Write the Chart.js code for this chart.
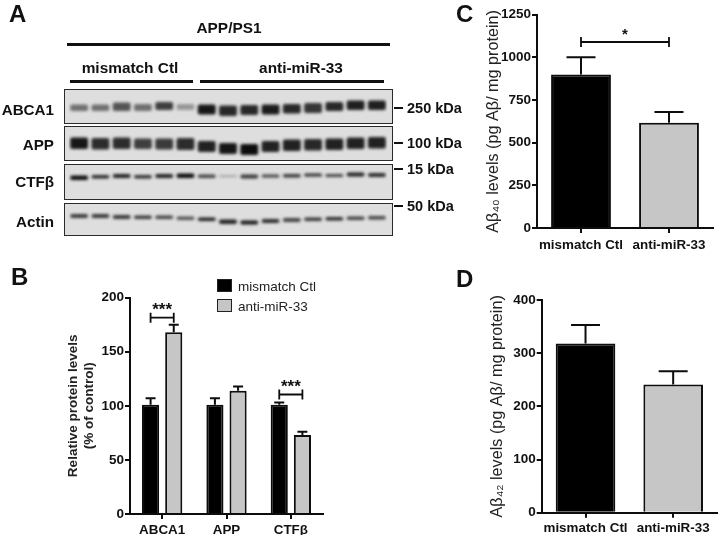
<!DOCTYPE html>
<html>
<head>
<meta charset="utf-8">
<script src="https://cdn.jsdelivr.net/npm/chart.js@4/dist/chart.umd.min.js"></script>
<style>
    html, body { margin: 0; padding: 0; background: #fff; }
    #page { position: relative; width: 720px; height: 539px; overflow: hidden; font-family: 'Liberation Sans', sans-serif; color: #111; filter: blur(0.35px); }
    #page canvas { position: absolute; }
    .t { position: absolute; font-weight: bold; font-size: 15.4px; white-space: nowrap; transform: translateY(-50%); }
    .c { transform: translate(-50%, -50%); }
    .r { transform: translate(-100%, -50%); font-size: 15.2px; }
    .k { font-size: 14.5px; }
    .letter { font-size: 24px; }
    .line { position: absolute; background: #111; }
    .frame { position: absolute; box-sizing: border-box; left: 64px; width: 329px; border: 1.5px solid #2a2a2a; background: #dedede; }
    .swatch { position: absolute; box-sizing: border-box; left: 217px; width: 15px; height: 13px; border: 1.5px solid #222; }
    .leg { font-weight: normal; font-size: 13.5px; color: #222; }
</style>
</head>
<body>
<div id="page">
    <div class="t letter" style="left:9px;top:14px">A</div>
    <div class="t letter" style="left:11px;top:277px">B</div>
    <div class="t letter" style="left:456px;top:14px">C</div>
    <div class="t letter" style="left:456px;top:279px">D</div>

    <div class="t c" style="left:229px;top:28px">APP/PS1</div>
    <div class="line" style="left:67px;top:43px;width:323px;height:3px"></div>
    <div class="t c" style="left:130px;top:68px">mismatch Ctl</div>
    <div class="line" style="left:70px;top:80px;width:123px;height:3px"></div>
    <div class="t c" style="left:301px;top:68px">anti-miR-33</div>
    <div class="line" style="left:200px;top:80px;width:184px;height:3px"></div>

    <div class="frame" style="top:89px;height:35px"></div>
    <div class="frame" style="top:126px;height:35px"></div>
    <div class="frame" style="top:164px;height:36px"></div>
    <div class="frame" style="top:203px;height:33px"></div>

    <div class="t r" style="left:54px;top:109px">ABCA1</div>
    <div class="t r" style="left:54px;top:144px">APP</div>
    <div class="t r" style="left:54px;top:181px">CTFβ</div>
    <div class="t r" style="left:54px;top:221px">Actin</div>

    <div class="line" style="left:394px;top:107px;width:9px;height:1.5px"></div>
    <div class="t k" style="left:407px;top:108px">250 kDa</div>
    <div class="line" style="left:394px;top:142px;width:9px;height:1.5px"></div>
    <div class="t k" style="left:407px;top:143px">100 kDa</div>
    <div class="line" style="left:394px;top:168px;width:9px;height:1.5px"></div>
    <div class="t k" style="left:407px;top:169px">15 kDa</div>
    <div class="line" style="left:394px;top:205px;width:9px;height:1.5px"></div>
    <div class="t k" style="left:407px;top:206px">50 kDa</div>

    <div class="swatch" style="top:279px;background:#000"></div>
    <div class="t leg" style="left:238px;top:286px">mismatch Ctl</div>
    <div class="swatch" style="top:299px;background:#c6c6c6"></div>
    <div class="t leg" style="left:238px;top:306px">anti-miR-33</div>

    <canvas id="blot"></canvas>
    <canvas id="chartB"></canvas>
    <canvas id="chartC"></canvas>
    <canvas id="chartD"></canvas>
</div>

<script>
const BLACK = '#000000';
const GREY = '#c6c6c6';
const EDGE = '#0d0d0d';
const FONT = "'Liberation Sans', sans-serif";

// Panel B
const proteins = ['ABCA1', 'APP', 'CTFβ'];
const seriesNames = ['mismatch Ctl', 'anti-miR-33'];
const ctlValues = [101, 101, 101];
const ctlErrors = [107, 107, 103];
const antiValues = [168, 114, 73];
const antiErrors = [175, 118, 76];

// Panel C
const groups = ['mismatch Ctl', 'anti-miR-33'];
const ab40Values = [900, 617];
const ab40Errors = [1000, 680];

// Panel D
const ab42Values = [318, 241];
const ab42Errors = [353, 266];

// Panel A blot, one entry per lane: band edges read in picture rows, and darkness 0-1
const lanes = ['1', '2', '3', '4', '5', '6', '7', '8', '9', '10', '11', '12', '13', '14', '15'];
const abca1Top = [104.5, 104.5, 102.5, 104, 102, 104, 104.5, 105.5, 105, 104.5, 104, 103, 102, 100.5, 100.5];
const abca1Bottom = [111, 111, 111, 111, 110, 110, 114.5, 116, 115, 114.5, 113.5, 113, 111, 110, 110];
const abca1Dark = [0.5, 0.5, 0.62, 0.5, 0.72, 0.32, 0.9, 0.82, 0.82, 0.88, 0.82, 0.76, 0.82, 0.86, 0.86];
const appTop = [137.5, 138, 137.5, 138.5, 138.5, 138, 141, 143, 144, 141, 139.5, 139, 138.5, 137.5, 137];
const appBottom = [149, 149.5, 149, 149, 149.5, 150, 152, 154, 155, 152, 151, 150.5, 150, 149, 148.5];
const appDark = [0.9, 0.8, 0.8, 0.72, 0.74, 0.8, 0.85, 0.9, 0.94, 0.85, 0.85, 0.82, 0.85, 0.85, 0.85];
const ctfTop = [175.5, 175, 174, 175, 174, 173.5, 174.5, 175.5, 174.5, 174.5, 174, 173.5, 174, 172.5, 173];
const ctfBottom = [180, 178.5, 178, 178.5, 178, 178, 178, 177, 178.5, 177.5, 177.5, 176.5, 177, 176.5, 177];
const ctfDark = [0.95, 0.82, 0.85, 0.78, 0.85, 0.95, 0.7, 0.35, 0.75, 0.7, 0.75, 0.8, 0.7, 0.85, 0.8];
const actinTop = [214, 214, 215, 215.5, 215.5, 216.5, 217.5, 219.5, 220.5, 219, 218, 217.5, 217, 216.5, 216];
const actinBottom = [218, 218, 219, 219, 219, 220, 221, 224, 224.5, 223, 222, 221, 220.5, 220, 219.5];
const actinDark = [0.75, 0.75, 0.75, 0.75, 0.7, 0.62, 0.85, 0.85, 0.9, 0.8, 0.7, 0.75, 0.8, 0.7, 0.7];

function shade(d) {
    const v = Math.round(222 * (1 - d));
    return `rgb(${v},${v},${v})`;
}

function bandSet(top, bottom, dark) {
    return {
        data: lanes.map((_, i) => [top[i], bottom[i]]),
        backgroundColor: dark.map(shade),
        grouped: false,
        barPercentage: 0.84,
        categoryPercentage: 1,
        borderRadius: 2,
        borderSkipped: false,
    };
}

// soft edges on the blot bands
const blurBands = {
    id: 'blurBands',
    beforeDatasetsDraw(chart) {
        chart.ctx.save();
        chart.ctx.filter = 'blur(1.5px)';
    },
    afterDatasetsDraw(chart) {
        chart.ctx.restore();
    },
};

function place(canvas, box) {
    canvas.width = box.w;
    canvas.height = box.h;
    canvas.style.left = box.x + 'px';
    canvas.style.top = box.y + 'px';
}

const blotCanvas = document.getElementById('blot');
place(blotCanvas, { x: 64, y: 85, w: 329, h: 155 });
new Chart(blotCanvas, {
    type: 'bar',
    data: {
        labels: lanes,
        datasets: [
            bandSet(abca1Top, abca1Bottom, abca1Dark),
            bandSet(appTop, appBottom, appDark),
            bandSet(ctfTop, ctfBottom, ctfDark),
            bandSet(actinTop, actinBottom, actinDark),
        ],
    },
    options: {
        responsive: false,
        animation: false,
        layout: { padding: { left: 4.5, right: 5.5, top: 0, bottom: 0 } },
        plugins: { legend: { display: false }, tooltip: { enabled: false } },
        scales: {
            x: { display: false },
            y: { display: false, reverse: true, min: 85, max: 240 },
        },
    },
    plugins: [blurBands],
});

// error bars (upper arm only) and significance brackets, read through the chart's scales
const errorBars = {
    id: 'errorBars',
    beforeDatasetsDraw(chart, args, opts) {
        const { ctx, scales } = chart;
        ctx.save();
        ctx.strokeStyle = EDGE;
        ctx.lineWidth = opts.lineWidth;
        chart.data.datasets.forEach((ds, d) => {
            chart.getDatasetMeta(d).data.forEach((bar, i) => {
                const top = scales.y.getPixelForValue(ds.errors[i]);
                ctx.beginPath();
                ctx.moveTo(bar.x, bar.y);
                ctx.lineTo(bar.x, top);
                ctx.moveTo(bar.x - opts.cap, top);
                ctx.lineTo(bar.x + opts.cap, top);
                ctx.stroke();
            });
        });
        ctx.restore();
    },
    afterDatasetsDraw(chart, args, opts) {
        const { ctx, scales } = chart;
        ctx.save();
        ctx.strokeStyle = EDGE;
        ctx.fillStyle = '#111';
        ctx.lineWidth = 1.8;
        ctx.font = `bold ${opts.starSize}px ${FONT}`;
        ctx.textAlign = 'center';
        ctx.textBaseline = 'middle';
        (opts.brackets || []).forEach(b => {
            const x0 = chart.getDatasetMeta(b.from[0]).data[b.from[1]].x;
            const x1 = chart.getDatasetMeta(b.to[0]).data[b.to[1]].x;
            const y = scales.y.getPixelForValue(b.value);
            ctx.beginPath();
            ctx.moveTo(x0, y - 5);
            ctx.lineTo(x0, y + 5);
            ctx.moveTo(x0, y);
            ctx.lineTo(x1, y);
            ctx.moveTo(x1, y - 5);
            ctx.lineTo(x1, y + 5);
            ctx.stroke();
            ctx.fillText(b.label, (x0 + x1) / 2, y - 7);
        });
        ctx.restore();
    },
};

function barOptions(cfg) {
    return {
        responsive: false,
        animation: false,
        layout: { padding: cfg.padding },
        plugins: {
            legend: { display: false },
            tooltip: { enabled: false },
            errorBars: { lineWidth: 2, cap: cfg.cap, brackets: cfg.brackets, starSize: cfg.starSize },
        },
        scales: {
            x: {
                afterFit: s => { s.height = cfg.xHeight; },
                grid: { display: true, offset: false, drawOnChartArea: false, color: EDGE, lineWidth: 2, tickLength: 5 },
                border: { color: EDGE, width: 2 },
                ticks: { color: '#111', font: { family: FONT, size: 13.4, weight: 'bold' }, padding: cfg.xPad, maxRotation: 0, autoSkip: false },
            },
            y: {
                min: 0,
                max: cfg.max,
                afterFit: s => { s.width = cfg.yWidth; },
                grid: { display: true, drawOnChartArea: false, color: EDGE, lineWidth: 2, tickLength: 5 },
                border: { color: EDGE, width: 2 },
                ticks: { color: '#111', stepSize: cfg.step, callback: v => String(v), font: { family: FONT, size: 13.5, weight: 'bold' }, padding: 1 },
                title: {
                    display: true,
                    text: cfg.title,
                    color: '#222',
                    font: { family: FONT, size: cfg.titleSize, weight: cfg.titleWeight, lineHeight: 1.15 },
                    padding: 0,
                },
            },
        },
    };
}

function barSet(label, values, errors, fill) {
    return { label, data: values, errors, backgroundColor: fill, borderColor: EDGE, borderWidth: 2, borderSkipped: 'bottom' };
}

const canvasB = document.getElementById('chartB');
place(canvasB, { x: 60, y: 280, w: 270, h: 255 });
new Chart(canvasB, {
    type: 'bar',
    data: {
        labels: proteins,
        datasets: [
            { ...barSet(seriesNames[0], ctlValues, ctlErrors, BLACK), barPercentage: 0.74, categoryPercentage: 0.72 },
            { ...barSet(seriesNames[1], antiValues, antiErrors, GREY), barPercentage: 0.74, categoryPercentage: 0.72 },
        ],
    },
    options: barOptions({
        padding: { left: 6, right: 7, top: 17.7, bottom: 0 },
        yWidth: 64, xHeight: 21, xPad: 3, max: 200, step: 50,
        cap: 5, starSize: 17,
        title: ['Relative protein levels', '(% of control)'], titleSize: 13.5, titleWeight: 'bold',
        brackets: [
            { from: [0, 0], to: [1, 0], value: 181.5, label: '***' },
            { from: [0, 2], to: [1, 2], value: 110.5, label: '***' },
        ],
    }),
    plugins: [errorBars],
});

const canvasC = document.getElementById('chartC');
place(canvasC, { x: 478, y: 0, w: 240, h: 252 });
new Chart(canvasC, {
    type: 'bar',
    data: {
        labels: groups,
        datasets: [{ ...barSet('Aβ40', ab40Values, ab40Errors, [BLACK, GREY]), barPercentage: 0.68, categoryPercentage: 1 }],
    },
    options: barOptions({
        padding: { left: 6, right: 5, top: 14.7, bottom: 0 },
        yWidth: 53, xHeight: 24, xPad: 4, max: 1250, step: 250,
        cap: 14.5, starSize: 15,
        title: 'Aβ₄₀ levels (pg Aβ/ mg protein)', titleSize: 16.2, titleWeight: 'normal',
        brackets: [{ from: [0, 0], to: [0, 1], value: 1090, label: '*' }],
    }),
    plugins: [errorBars],
});

const canvasD = document.getElementById('chartD');
place(canvasD, { x: 482, y: 285, w: 238, h: 254 });
new Chart(canvasD, {
    type: 'bar',
    data: {
        labels: groups,
        datasets: [{ ...barSet('Aβ42', ab42Values, ab42Errors, [BLACK, GREY]), barPercentage: 0.68, categoryPercentage: 1 }],
    },
    options: barOptions({
        padding: { left: 6, right: 3, top: 15, bottom: 0 },
        yWidth: 53.7, xHeight: 26.3, xPad: 3, max: 400, step: 100,
        cap: 14.5, starSize: 15,
        title: 'Aβ₄₂ levels (pg Aβ/ mg protein)', titleSize: 16.2, titleWeight: 'normal',
    }),
    plugins: [errorBars],
});
</script>
</body>
</html>
